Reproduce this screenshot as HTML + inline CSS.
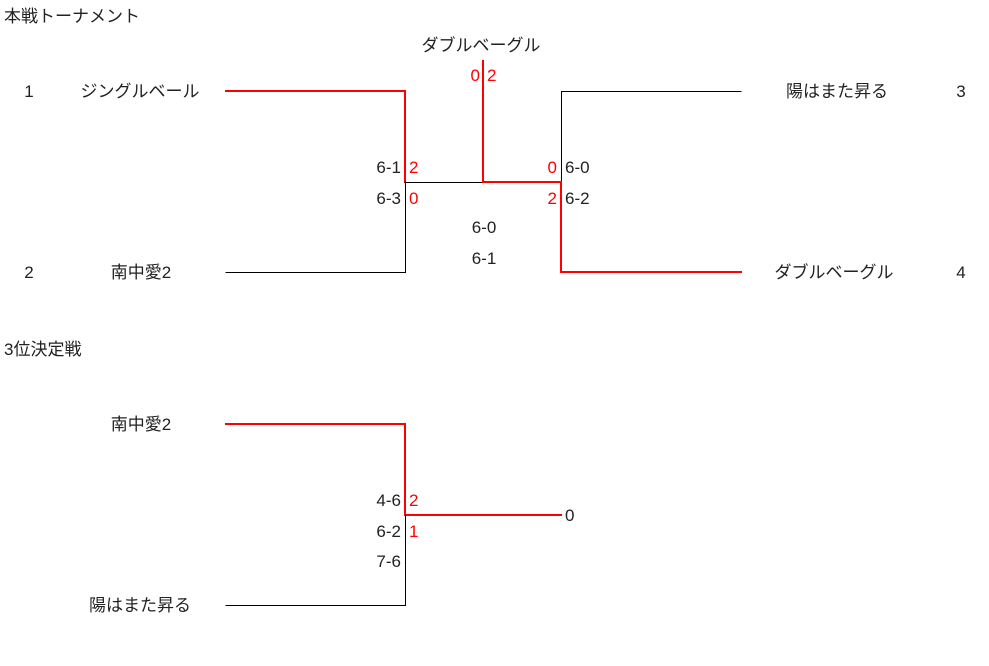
<!DOCTYPE html>
<html><head><meta charset="utf-8"><style>
html,body{margin:0;padding:0;background:#fff;width:989px;height:666px;overflow:hidden}
svg text{font-family:"Liberation Sans","Noto Sans CJK JP",sans-serif;font-size:17px;fill:#222}
.r{fill:#f00}
</style></head><body>
<svg width="989" height="666" xmlns="http://www.w3.org/2000/svg">
<g fill="none" stroke-linecap="square">
<polyline points="226,91 405,91 405,182" stroke="#f00" stroke-width="2"/>
<polyline points="405.5,182 405.5,272.5 226,272.5" stroke="#000" stroke-width="1"/>
<line x1="405" y1="182.5" x2="483" y2="182.5" stroke="#000" stroke-width="1"/>
<line x1="483" y1="182" x2="561" y2="182" stroke="#f00" stroke-width="2"/>
<line x1="483" y1="61" x2="483" y2="182" stroke="#f00" stroke-width="2"/>
<polyline points="741,91.5 561.5,91.5 561.5,182" stroke="#000" stroke-width="1"/>
<polyline points="561,182 561,272 741,272" stroke="#f00" stroke-width="2"/>
<polyline points="226,424 405,424 405,515 561,515" stroke="#f00" stroke-width="2"/>
<polyline points="405.5,515 405.5,605.5 226,605.5" stroke="#000" stroke-width="1"/>
</g>
<text x="4" y="22">本戦トーナメント</text>
<text x="481" y="51" text-anchor="middle">ダブルベーグル</text>
<text x="29" y="97" text-anchor="middle">1</text>
<text x="140" y="97" text-anchor="middle">ジングルベール</text>
<text x="29" y="278" text-anchor="middle">2</text>
<text x="141" y="278" text-anchor="middle">南中愛2</text>
<text x="837" y="97" text-anchor="middle">陽はまた昇る</text>
<text x="961" y="97" text-anchor="middle">3</text>
<text x="834" y="278" text-anchor="middle">ダブルベーグル</text>
<text x="961" y="278" text-anchor="middle">4</text>
<text class="r" x="480" y="81" text-anchor="end">0</text>
<text class="r" x="487" y="81">2</text>
<text x="401" y="173" text-anchor="end">6-1</text>
<text class="r" x="409" y="173">2</text>
<text x="401" y="204" text-anchor="end">6-3</text>
<text class="r" x="409" y="204">0</text>
<text class="r" x="557" y="173" text-anchor="end">0</text>
<text x="565" y="173">6-0</text>
<text class="r" x="557" y="204" text-anchor="end">2</text>
<text x="565" y="204">6-2</text>
<text x="484" y="233" text-anchor="middle">6-0</text>
<text x="484" y="264" text-anchor="middle">6-1</text>
<text x="4" y="355">3位決定戦</text>
<text x="141" y="430" text-anchor="middle">南中愛2</text>
<text x="140" y="611" text-anchor="middle">陽はまた昇る</text>
<text x="401" y="506" text-anchor="end">4-6</text>
<text class="r" x="409" y="506">2</text>
<text x="401" y="537" text-anchor="end">6-2</text>
<text class="r" x="409" y="537">1</text>
<text x="401" y="567" text-anchor="end">7-6</text>
<text x="565" y="521">0</text>
</svg>
</body></html>
